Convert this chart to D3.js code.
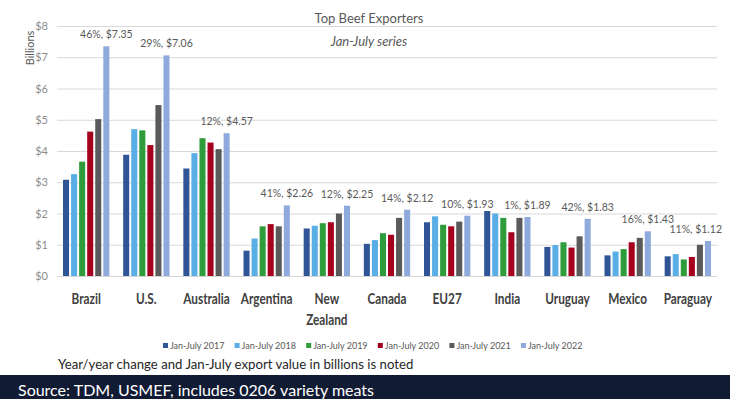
<!DOCTYPE html>
<html>
<head>
<meta charset="utf-8">
<script src="https://cdn.jsdelivr.net/npm/d3@7"></script>
<style>
  body { margin: 0; background: #fff; }
  text { font-family: Lato, "Open Sans", sans-serif; }
</style>
</head>
<body>
<div id="chart"></div>
<script>
const countries = ["Brazil", "U.S.", "Australia", "Argentina", "New Zealand", "Canada", "EU27", "India", "Uruguay", "Mexico", "Paraguay"];
const years = ["Jan-July 2017", "Jan-July 2018", "Jan-July 2019", "Jan-July 2020", "Jan-July 2021", "Jan-July 2022"];
const colors = ["#2f5597", "#5aaee6", "#2e9c3a", "#a5001e", "#5a5a5a", "#8eaadc"];

// export value, billions USD, one array per year
const v2017 = [3.08, 3.88, 3.44, 0.81, 1.52, 1.03, 1.72, 2.08, 0.93, 0.66, 0.63];
const v2018 = [3.26, 4.70, 3.93, 1.20, 1.61, 1.15, 1.91, 2.00, 0.99, 0.78, 0.70];
const v2019 = [3.66, 4.66, 4.41, 1.59, 1.69, 1.37, 1.64, 1.86, 1.08, 0.86, 0.53];
const v2020 = [4.62, 4.19, 4.27, 1.66, 1.72, 1.32, 1.59, 1.40, 0.91, 1.08, 0.61];
const v2021 = [5.02, 5.47, 4.06, 1.59, 2.00, 1.86, 1.74, 1.86, 1.27, 1.22, 1.00];
const v2022 = [7.35, 7.06, 4.57, 2.26, 2.25, 2.12, 1.93, 1.89, 1.83, 1.43, 1.12];
const yoy = ["46%", "29%", "12%", "41%", "12%", "14%", "10%", "1%", "42%", "16%", "11%"];
const yTicks = [0, 1, 2, 3, 4, 5, 6, 7, 8];

const series = [v2017, v2018, v2019, v2020, v2021, v2022];

const width = 739, height = 399;
const margin = {left: 57, right: 22, top: 26, bottom: 123};

const svg = d3.select("#chart")
  .append("svg")
  .attr("width", width)
  .attr("height", height);

svg.append("rect").attr("width", width).attr("height", height).attr("fill", "#fff");

const x0 = d3.scaleBand()
  .domain(countries)
  .range([margin.left, width - margin.right])
  .paddingInner(0.23)
  .paddingOuter(0.1);

const x1 = d3.scaleBand()
  .domain(years)
  .range([0, x0.bandwidth()])
  .paddingInner(0.25);

const y = d3.scaleLinear()
  .domain([0, 8])
  .range([height - margin.bottom, margin.top]);

// gridlines + tick labels
const yAxis = svg.append("g")
  .attr("transform", `translate(${margin.left},0)`)
  .call(d3.axisLeft(y)
    .tickValues(yTicks)
    .tickSize(-(width - margin.left - margin.right))
    .tickPadding(9)
    .tickFormat(d => "$" + d));
yAxis.select(".domain").remove();
yAxis.selectAll(".tick line").attr("stroke", "#d9d9d9");
yAxis.selectAll(".tick text")
  .attr("fill", "#8c8c8c")
  .attr("font-size", "11px");

svg.append("text")
  .attr("transform", `translate(34,48) rotate(-90)`)
  .attr("text-anchor", "middle")
  .attr("fill", "#595959")
  .attr("font-size", "11px")
  .text("Billions");

// title
svg.append("text")
  .attr("x", 369).attr("y", 23)
  .attr("text-anchor", "middle")
  .attr("fill", "#595959")
  .attr("font-size", "13px")
  .text("Top Beef Exporters");
svg.append("text")
  .attr("x", 369).attr("y", 46)
  .attr("text-anchor", "middle")
  .attr("fill", "#595959")
  .attr("font-size", "13px")
  .attr("font-style", "italic")
  .text("Jan-July series");

// bars
const groups = svg.selectAll(".grp")
  .data(countries)
  .enter()
  .append("g")
  .attr("class", "grp")
  .attr("transform", d => `translate(${x0(d)},0)`);

groups.selectAll("rect")
  .data((c, i) => years.map((yr, j) => ({year: yr, value: series[j][i], color: colors[j]})))
  .enter()
  .append("rect")
  .attr("x", d => x1(d.year))
  .attr("y", d => y(d.value))
  .attr("width", x1.bandwidth())
  .attr("height", d => y(0) - y(d.value))
  .attr("fill", d => d.color);

// labels on the 2022 bars, kept inside the chart area like Excel does
const labelX = x1(years[5]) + x1.bandwidth() / 2;
groups.append("text")
  .attr("x", labelX)
  .attr("y", (c, i) => y(v2022[i]) - 8)
  .attr("text-anchor", "middle")
  .attr("fill", "#595959")
  .attr("font-size", "10.5px")
  .text((c, i) => yoy[i] + ", $" + v2022[i].toFixed(2))
  .each(function(c) {
    const w = this.getComputedTextLength();
    const right = x0(c) + labelX + w / 2;
    if (right > 722) d3.select(this).attr("x", labelX - (right - 722));
  });

// category labels (squeezed to look like the narrow Calibri of the original)
svg.selectAll(".cat")
  .data(countries)
  .enter()
  .append("text")
  .attr("class", "cat")
  .attr("y", 304)
  .attr("text-anchor", "middle")
  .attr("fill", "#404040")
  .attr("font-size", "15.5px")
  .attr("font-weight", "bold")
  .each(function(d) {
    const t = d3.select(this);
    const cx = x0(d) + x0.bandwidth() / 2;
    const parts = d === "New Zealand" ? ["New", "Zealand"] : [d];
    parts.forEach((p, k) => {
      const span = t.append("tspan")
        .attr("x", cx)
        .attr("dy", k === 0 ? 0 : 21)
        .text(p);
      const w = span.node().getComputedTextLength();
      span.attr("textLength", w * 0.76).attr("lengthAdjust", "spacingAndGlyphs");
    });
  });

// legend
const legend = svg.append("g").attr("transform", "translate(163,346)");
const legItems = legend.selectAll("g")
  .data(years)
  .enter()
  .append("g")
  .attr("transform", (d, i) => `translate(${i * 71.6},0)`);
legItems.append("rect")
  .attr("x", 0).attr("y", -3)
  .attr("width", 5).attr("height", 5)
  .attr("fill", (d, i) => colors[i]);
legItems.append("text")
  .attr("x", 7).attr("y", 3)
  .attr("fill", "#595959")
  .attr("font-size", "9px")
  .text(d => d);

svg.append("text")
  .attr("x", 58).attr("y", 369)
  .attr("fill", "#262626")
  .attr("font-size", "13.2px")
  .text("Year/year change and Jan-July export value in billions is noted");

// source band
svg.append("rect")
  .attr("x", 0).attr("y", 375)
  .attr("width", 730).attr("height", 24)
  .attr("fill", "#121b34");
svg.append("text")
  .attr("x", 18).attr("y", 396)
  .attr("fill", "#ffffff")
  .attr("font-size", "16px")
  .text("Source: TDM, USMEF, includes 0206 variety meats");
</script>
</body>
</html>
